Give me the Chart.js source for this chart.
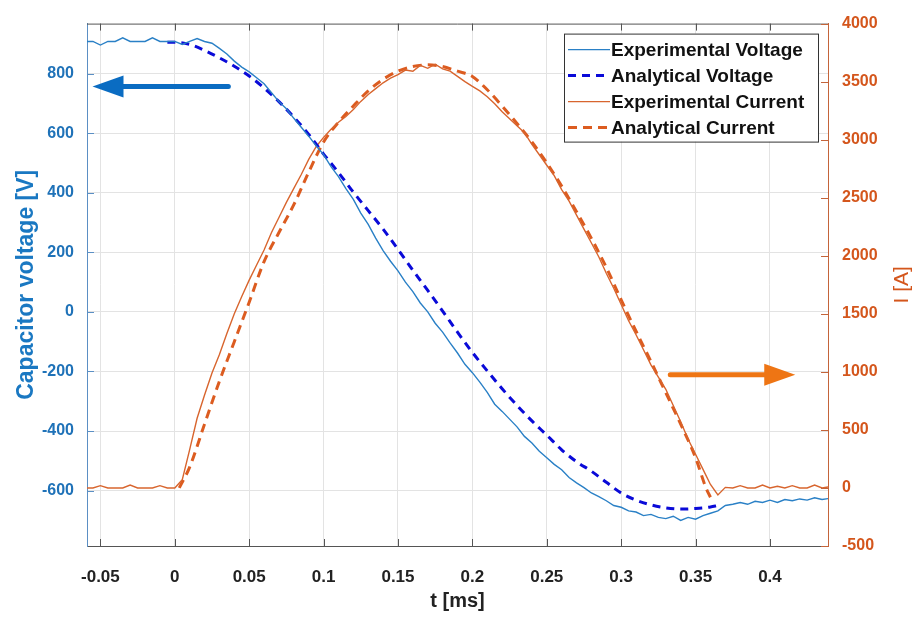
<!DOCTYPE html>
<html>
<head>
<meta charset="utf-8">
<script src="https://cdn.jsdelivr.net/npm/chart.js@4.4.1/dist/chart.umd.min.js"></script>
<style>
  html, body { margin: 0; padding: 0; background: #fff; }
</style>
</head>
<body>
<canvas id="chart" width="916" height="617"></canvas>
<script>
// ---------------------------------------------------------------------------
// Data
// ---------------------------------------------------------------------------
const xTicks = [-0.05, 0, 0.05, 0.1, 0.15, 0.2, 0.25, 0.3, 0.35, 0.4];
const voltageTicks = [-600, -400, -200, 0, 200, 400, 600, 800];
const currentTicks = [-500, 0, 500, 1000, 1500, 2000, 2500, 3000, 3500, 4000];

// measured samples (t in ms)
const expTime = [
  -0.06, -0.055, -0.05, -0.045, -0.04, -0.035, -0.03, -0.025, -0.02, -0.015, -0.01, -0.005,
  0, 0.005, 0.01, 0.015, 0.02, 0.025, 0.03, 0.035, 0.04, 0.045, 0.05, 0.055, 0.06, 0.065,
  0.07, 0.075, 0.08, 0.085, 0.09, 0.095, 0.1, 0.105, 0.11, 0.115, 0.12, 0.125, 0.13, 0.135,
  0.14, 0.145, 0.15, 0.155, 0.16, 0.165, 0.17, 0.175, 0.18, 0.185, 0.19, 0.195, 0.2, 0.205,
  0.21, 0.215, 0.22, 0.225, 0.23, 0.235, 0.24, 0.245, 0.25, 0.255, 0.26, 0.265, 0.27, 0.275,
  0.28, 0.285, 0.29, 0.295, 0.3, 0.305, 0.31, 0.315, 0.32, 0.325, 0.33, 0.335, 0.34, 0.345,
  0.35, 0.355, 0.36, 0.365, 0.37, 0.375, 0.38, 0.385, 0.39, 0.395, 0.4, 0.405, 0.41, 0.415,
  0.42, 0.425, 0.43, 0.435, 0.44
];
const expVoltage = [
  908, 908, 896, 908, 908, 920, 908, 908, 908, 920, 908, 908,
  908, 898, 908, 918, 908, 902, 885, 866, 842, 822, 806, 786, 766, 736,
  706, 682, 650, 620, 590, 558, 528, 488, 454, 414, 378, 332, 294, 248,
  206, 170, 138, 100, 68, 30, 0, -38, -68, -104, -138, -176, -204, -236,
  -270, -310, -334, -360, -386, -418, -440, -468, -490, -512, -530, -556, -574, -590,
  -608, -620, -634, -650, -656, -668, -672, -684, -680, -690, -694, -686, -700, -690,
  -696, -684, -676, -668, -650, -646, -640, -646, -636, -640, -632, -640, -630, -634,
  -628, -632, -624, -630, -626
];
const expCurrent = [
  0, 0, 20, 0, 0, 0, 25, 0, 0, 0, 20, 0,
  0, 70, 330, 600, 800, 990, 1150, 1330, 1500, 1650, 1790, 1920, 2050, 2200,
  2330, 2460, 2580, 2700, 2830, 2940, 3020, 3090, 3150, 3200, 3260, 3330, 3390, 3440,
  3490, 3530, 3560, 3600, 3590, 3640, 3615, 3650, 3610, 3590, 3545, 3500, 3460, 3420,
  3370, 3310, 3240, 3180, 3120, 3060, 2960, 2870, 2780, 2690, 2570, 2470, 2350, 2230,
  2110, 1990, 1850, 1720, 1580, 1440, 1320, 1190, 1060, 955, 850, 710, 570, 420,
  290, 160, 30, -60, 5, 0, 20, 0, 0, 25, 0, 15, 0, 20,
  0, 0, 25, 0, 10
];

// analytical model curves
const anaVoltTime = [
  -0.005, 0, 0.01, 0.02, 0.03, 0.04, 0.05, 0.06, 0.07, 0.08, 0.09, 0.1, 0.11, 0.12, 0.13,
  0.14, 0.15, 0.16, 0.17, 0.18, 0.19, 0.2, 0.21, 0.22, 0.23, 0.24, 0.25, 0.26, 0.27, 0.28,
  0.29, 0.3, 0.31, 0.32, 0.33, 0.34, 0.35, 0.36, 0.365
];
const anaVoltage = [
  905, 905, 898, 878, 853, 825, 792, 752, 706, 654, 596, 530, 468, 402, 340,
  278, 210, 140, 72, 3, -68, -136, -198, -258, -314, -366, -414, -463, -503, -535,
  -572, -608, -632, -648, -658, -662, -660, -655, -650
];
const anaCurrTime = [
  0.003, 0.01, 0.02, 0.03, 0.04, 0.05, 0.06, 0.07, 0.08, 0.09, 0.1, 0.11, 0.12, 0.13,
  0.14, 0.15, 0.16, 0.17, 0.18, 0.19, 0.2, 0.21, 0.22, 0.23, 0.24, 0.25, 0.26, 0.27,
  0.28, 0.29, 0.3, 0.31, 0.32, 0.33, 0.34, 0.35, 0.357, 0.36
];
const anaCurrent = [
  0, 180, 550, 920, 1260, 1600, 1950, 2200, 2440, 2720, 2980, 3150, 3290, 3420,
  3520, 3590, 3630, 3645, 3630, 3590, 3545, 3430, 3290, 3140, 2980, 2800, 2600, 2380,
  2150, 1900, 1620, 1350, 1090, 820, 550, 260, 0, -80
];

// annotation arrows: [t start, t end, value] in data units
const voltArrow = [0.036, -0.0553, 757];
const currArrow = [0.333, 0.417, 975];

const toPoints = (xs, ys) => xs.map((x, i) => ({ x: x, y: ys[i] }));

// ---------------------------------------------------------------------------
// Colours / fonts
// ---------------------------------------------------------------------------
const BLUE_AXIS = '#1f72b8';
const ORANGE_AXIS = '#d4561c';
const FONT = 'Liberation Sans, Arial, sans-serif';

function drawArrow(ctx, x0, x1, y, color) {
    const dir = x1 > x0 ? 1 : -1;
    const headLen = 31, headHalf = 11;
    ctx.save();
    ctx.strokeStyle = color;
    ctx.fillStyle = color;
    ctx.lineWidth = 5;
    ctx.lineCap = 'round';
    ctx.beginPath();
    ctx.moveTo(x0, y);
    ctx.lineTo(x1 - dir * headLen + dir * 2, y);
    ctx.stroke();
    ctx.beginPath();
    ctx.moveTo(x1, y);
    ctx.lineTo(x1 - dir * headLen, y - headHalf);
    ctx.lineTo(x1 - dir * headLen, y + headHalf);
    ctx.closePath();
    ctx.fill();
    ctx.restore();
}

const overlayPlugin = {
    id: 'overlay',
    afterDraw(chart) {
        const { ctx, chartArea: a, scales } = chart;
        ctx.save();

        // top frame line
        ctx.strokeStyle = '#555';
        ctx.lineWidth = 1;
        ctx.beginPath();
        ctx.moveTo(a.left, a.top + 0.5);
        ctx.lineTo(a.right, a.top + 0.5);
        ctx.stroke();

        // inward tick marks (matlab style)
        xTicks.forEach(v => {
            const px = Math.round(scales.x.getPixelForValue(v)) + 0.5;
            ctx.beginPath();
            ctx.moveTo(px, a.bottom); ctx.lineTo(px, a.bottom - 7);
            ctx.moveTo(px, a.top); ctx.lineTo(px, a.top + 7);
            ctx.stroke();
        });
        ctx.strokeStyle = '#5b8fc4';
        voltageTicks.forEach(v => {
            const py = Math.round(scales.y.getPixelForValue(v)) + 0.5;
            ctx.beginPath(); ctx.moveTo(a.left, py); ctx.lineTo(a.left + 7, py); ctx.stroke();
        });
        ctx.strokeStyle = '#c4643a';
        currentTicks.forEach(v => {
            const py = Math.round(scales.y1.getPixelForValue(v)) + 0.5;
            ctx.beginPath(); ctx.moveTo(a.right, py); ctx.lineTo(a.right - 7, py); ctx.stroke();
        });

        // arrows pointing to the axes
        drawArrow(ctx, scales.x.getPixelForValue(voltArrow[0]), scales.x.getPixelForValue(voltArrow[1]),
            scales.y.getPixelForValue(voltArrow[2]), '#0a6cc2');
        drawArrow(ctx, scales.x.getPixelForValue(currArrow[0]), scales.x.getPixelForValue(currArrow[1]),
            scales.y1.getPixelForValue(currArrow[2]), '#ee7514');

        // legend box
        const bw = 254, bh = 108;
        const bx = a.right - 10 - bw, by = a.top + 10;
        ctx.fillStyle = '#fff';
        ctx.fillRect(bx, by, bw, bh);
        ctx.strokeStyle = '#333';
        ctx.lineWidth = 1;
        ctx.strokeRect(bx + 0.5, by + 0.5, bw, bh);
        ctx.font = 'bold 19px ' + FONT;
        ctx.textBaseline = 'middle';
        chart.data.datasets.forEach((ds, i) => {
            const ry = by + 16 + i * 26;
            ctx.save();
            ctx.strokeStyle = ds.borderColor;
            ctx.lineWidth = ds.borderWidth;
            ctx.setLineDash(ds.borderDash || []);
            ctx.beginPath();
            ctx.moveTo(bx + 4, ry);
            ctx.lineTo(bx + 46, ry);
            ctx.stroke();
            ctx.restore();
            ctx.fillStyle = '#111';
            ctx.fillText(ds.label, bx + 47, ry + 1);
        });

        // right axis title, reading bottom-to-top like the left one
        ctx.save();
        ctx.translate(scales.y1.right - 14, (a.top + a.bottom) / 2);
        ctx.rotate(-Math.PI / 2);
        ctx.textAlign = 'center';
        ctx.textBaseline = 'middle';
        ctx.fillStyle = ORANGE_AXIS;
        ctx.font = '21px ' + FONT;
        ctx.fillText('I [A]', 0, 0);
        ctx.restore();

        ctx.restore();
    }
};

// ---------------------------------------------------------------------------
// Chart
// ---------------------------------------------------------------------------
const ctx = document.getElementById('chart').getContext('2d');

const chart = new Chart(ctx, {
    type: 'line',
    data: {
        datasets: [
            {
                label: 'Experimental Voltage',
                data: toPoints(expTime, expVoltage),
                yAxisID: 'y',
                borderColor: '#2a80c6',
                borderWidth: 1.4,
                pointRadius: 0,
                tension: 0
            },
            {
                label: 'Analytical Voltage',
                data: toPoints(anaVoltTime, anaVoltage),
                yAxisID: 'y',
                borderColor: '#0a0ad8',
                borderWidth: 3,
                borderDash: [8, 6],
                pointRadius: 0,
                cubicInterpolationMode: 'monotone'
            },
            {
                label: 'Experimental Current',
                data: toPoints(expTime, expCurrent),
                yAxisID: 'y1',
                borderColor: '#d8652e',
                borderWidth: 1.4,
                pointRadius: 0,
                tension: 0
            },
            {
                label: 'Analytical Current',
                data: toPoints(anaCurrTime, anaCurrent),
                yAxisID: 'y1',
                borderColor: '#dc5c20',
                borderWidth: 3,
                borderDash: [9, 6],
                pointRadius: 0,
                cubicInterpolationMode: 'monotone'
            }
        ]
    },
    options: {
        responsive: false,
        animation: false,
        layout: { padding: { top: 14, left: 0, right: 0, bottom: 0 } },
        plugins: {
            legend: { display: false },
            tooltip: { enabled: false }
        },
        scales: {
            x: {
                type: 'linear',
                min: -0.059,
                max: 0.439,
                afterBuildTicks: s => { s.ticks = xTicks.map(v => ({ value: v })); },
                afterFit: s => { s.height = 71; },
                grid: { color: '#e3e3e3', drawTicks: false },
                border: { color: '#555', width: 1 },
                ticks: {
                    color: '#222',
                    padding: 21,
                    maxRotation: 0,
                    font: { family: FONT, size: 17, weight: 'bold' },
                    callback: v => String(v)
                },
                title: {
                    display: true,
                    text: 't [ms]',
                    color: '#222',
                    padding: { top: 0, bottom: 4 },
                    font: { family: FONT, size: 20, weight: 'bold' }
                }
            },
            y: {
                position: 'left',
                min: -786,
                max: 968,
                afterBuildTicks: s => { s.ticks = voltageTicks.map(v => ({ value: v })); },
                afterFit: s => { s.width = 87; },
                grid: { color: '#e3e3e3', drawTicks: false },
                border: { color: '#5b8fc4', width: 1 },
                ticks: {
                    color: BLUE_AXIS,
                    padding: 13,
                    font: { family: FONT, size: 16, weight: 'bold' },
                    callback: v => String(v)
                },
                title: {
                    display: true,
                    text: 'Capacitor voltage [V]',
                    color: '#1a78c2',
                    padding: { top: 13, bottom: 0 },
                    font: { family: FONT, size: 23, weight: 'bold' }
                }
            },
            y1: {
                position: 'right',
                min: -500,
                max: 4000,
                afterBuildTicks: s => { s.ticks = currentTicks.map(v => ({ value: v })); },
                afterFit: s => { s.width = 88; },
                grid: { display: false, drawTicks: false },
                border: { color: '#c4643a', width: 1 },
                ticks: {
                    color: ORANGE_AXIS,
                    padding: 14,
                    font: { family: FONT, size: 16, weight: 'bold' },
                    callback: v => String(v)
                }
            }
        }
    },
    plugins: [overlayPlugin]
});
</script>
</body>
</html>
